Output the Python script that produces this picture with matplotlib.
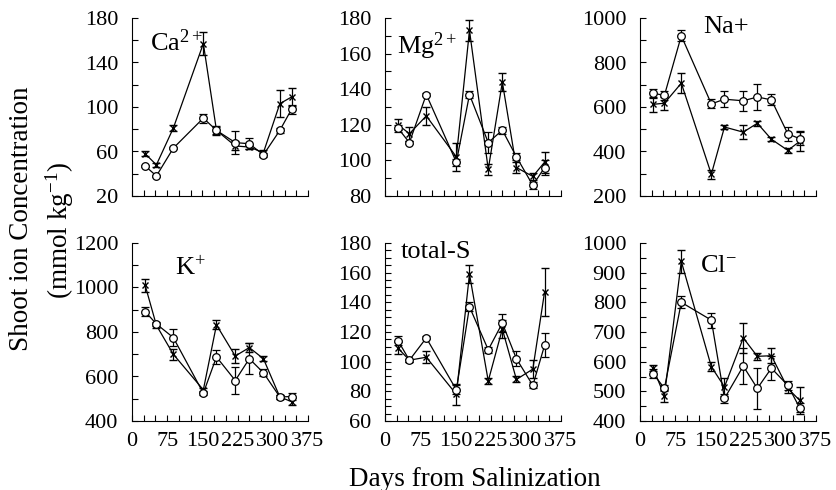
import matplotlib
matplotlib.use("Agg")
import matplotlib.pyplot as plt
from matplotlib.ticker import MultipleLocator

plt.rcParams['font.family'] = ['Liberation Serif', 'DejaVu Serif']
plt.rcParams['mathtext.fontset'] = 'custom'
plt.rcParams['mathtext.rm'] = 'Liberation Serif'
plt.rcParams['mathtext.it'] = 'Liberation Serif:italic'

# sampling days (same for every panel)
days = [28, 52, 88, 152, 180, 220, 250, 280, 315, 340]

# Ca2+
ca_x = [58, 48, 81, 157, 79, 65, 64, 59, 103, 109]
ca_x_err = [2, 2, 3, 10, 4, 4, 2, 2, 12, 8]
ca_o = [47, 38, 63, 90, 79, 68, 67, 57, 79, 98]
ca_o_err = [1, 1, 1, 4, 3, 10, 5, 2, 2, 4]
ca_ticks = [20, 60, 100, 140, 180]

# Mg2+
mg_x = [120, 115, 125, 102, 173, 95, 144, 96, 91, 99]
mg_x_err = [3, 4, 5, 8, 6, 3, 5, 3, 2, 6]
mg_o = [118, 110, 137, 99, 137, 110, 117, 102, 86, 96]
mg_o_err = [2, 1, 1, 2, 2, 6, 2, 2, 2, 4]
mg_ticks = [80, 100, 120, 140, 160, 180]

# Na+
na_x = [612, 617, 707, 298, 510, 487, 527, 455, 405, 445]
na_x_err = [35, 30, 45, 20, 8, 30, 12, 10, 12, 45]
na_o = [662, 652, 920, 614, 635, 628, 645, 632, 479, 458]
na_o_err = [20, 20, 25, 20, 35, 45, 60, 25, 30, 30]
na_ticks = [200, 400, 600, 800, 1000]

# K+
k_x = [1010, 830, 700, 540, 832, 692, 730, 680, 508, 487]
k_x_err = [30, 10, 25, 10, 20, 30, 20, 10, 10, 15]
k_o = [892, 836, 775, 525, 688, 582, 680, 617, 508, 510]
k_o_err = [20, 10, 40, 10, 30, 60, 70, 15, 10, 15]
k_ticks = [400, 600, 800, 1000, 1200]

# total-S
s_x = [109, 101, 103, 78, 159, 87, 122, 88, 95, 147]
s_x_err = [4, 1, 4, 7, 6, 2, 6, 2, 6, 16]
s_o = [114, 101, 116, 81, 137, 108, 126, 102, 84, 111]
s_o_err = [3, 1, 1, 3, 3, 2, 6, 5, 2, 8]
s_ticks = [60, 80, 100, 120, 140, 160, 180]

# Cl-
cl_x = [578, 485, 938, 583, 515, 680, 618, 620, 510, 470]
cl_x_err = [10, 20, 40, 15, 30, 50, 12, 25, 15, 45]
cl_o = [560, 510, 800, 740, 476, 585, 510, 578, 520, 445]
cl_o_err = [15, 10, 20, 25, 15, 60, 70, 40, 15, 15]
cl_ticks = [400, 500, 600, 700, 800, 900, 1000]

x_ticks = [0, 75, 150, 225, 300, 375]

panels = [
    (r'Ca$^{\mathrm{2+}}$', (0.10, 0.86), ca_x, ca_x_err, ca_o, ca_o_err, ca_ticks, 20, 0),
    (r'Mg$^{\mathrm{2+}}$', (0.07, 0.84), mg_x, mg_x_err, mg_o, mg_o_err, mg_ticks, 10, 0),
    ('Na+', (0.36, 0.95), na_x, na_x_err, na_o, na_o_err, na_ticks, 100, 0),
    (r'K$^{\mathrm{+}}$', (0.245, 0.86), k_x, k_x_err, k_o, k_o_err, k_ticks, 100, 1),
    ('total-S', (0.09, 0.95), s_x, s_x_err, s_o, s_o_err, s_ticks, 5, 1),
    (r'Cl$^{\mathrm{-}}$', (0.34, 0.87), cl_x, cl_x_err, cl_o, cl_o_err, cl_ticks, 50, 1),
]

W, H = 836, 490
fig = plt.figure(figsize=(W / 100, H / 100), dpi=100)

lefts = [132, 385, 640]
bottoms = [196, 421]
aw, ah = 176, 178

for i, (name, pos, xv, xe, ov, oe, yt, minor, row) in enumerate(panels):
    col = i % 3
    ax = fig.add_axes([lefts[col] / W, 1 - bottoms[row] / H, aw / W, ah / H])
    ax.errorbar(days, ov, yerr=oe, color='black', lw=0.9, marker='o', ms=5.5,
                mfc='white', mec='black', mew=0.9, capsize=3, elinewidth=0.9, zorder=3)
    ax.errorbar(days, xv, yerr=xe, color='black', lw=0.9, marker='x', ms=5,
                mec='black', mew=1.0, capsize=3, elinewidth=0.9, zorder=2)
    ax.set_xlim(x_ticks[0], x_ticks[-1])
    ax.set_ylim(yt[0], yt[-1])
    ax.set_xticks(x_ticks)
    ax.xaxis.set_minor_locator(MultipleLocator(25))
    ax.set_yticks(yt)
    ax.yaxis.set_minor_locator(MultipleLocator(minor))
    ax.tick_params(which='both', direction='in', length=4, width=0.8, labelsize=16)
    ax.tick_params(axis='x', pad=8)
    ax.tick_params(axis='y', pad=10)
    for s in ['top', 'right']:
        ax.spines[s].set_visible(False)
    for s in ['left', 'bottom']:
        ax.spines[s].set_linewidth(0.8)
    if row == 0:
        ax.tick_params(axis='x', labelbottom=False)
    ax.text(pos[0], pos[1], name, transform=ax.transAxes, fontsize=19,
            ha='left', va='center')

fig.text(22 / W, 1 - 219 / H, 'Shoot ion Concentration', rotation=90,
         fontsize=19.5, ha='center', va='center')
fig.text(60 / W, 1 - 230 / H, r'(mmol kg$^{\mathrm{-1}}$)', rotation=90,
         fontsize=19.5, ha='center', va='center')
fig.text(475 / W, 1 - 479 / H, 'Days from Salinization', fontsize=19.5,
         ha='center', va='center')

fig.savefig('out.png', dpi=100)
